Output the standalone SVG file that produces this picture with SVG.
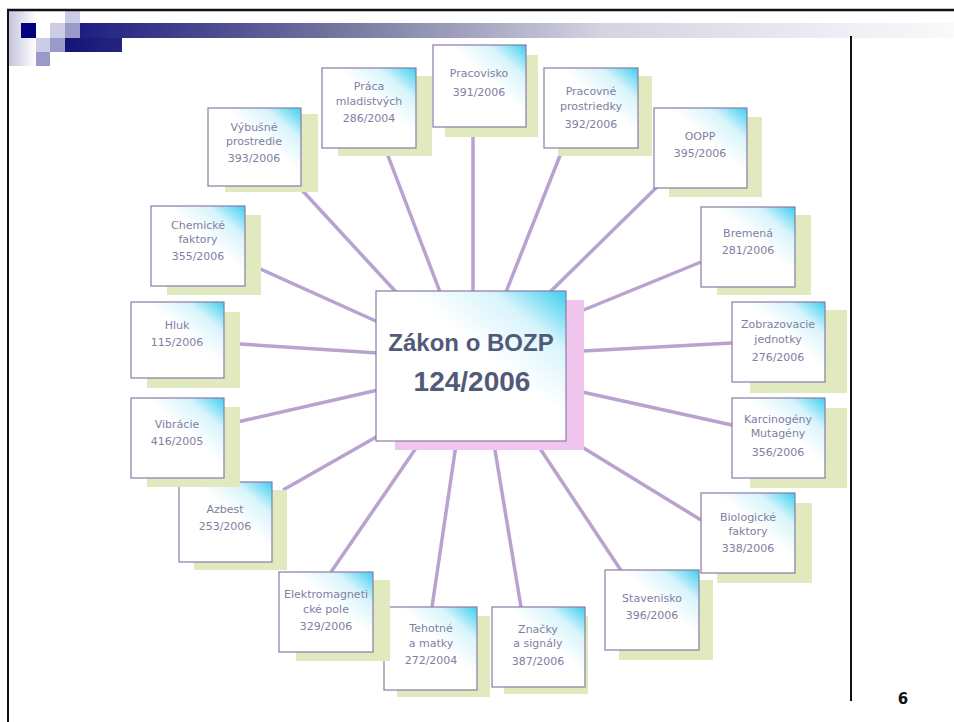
<svg xmlns="http://www.w3.org/2000/svg" width="954" height="722" viewBox="0 0 954 722">
<defs>
<linearGradient id="boxg" x1="0" y1="1" x2="1" y2="0">
<stop offset="0" stop-color="#ffffff"/>
<stop offset="0.58" stop-color="#ffffff"/>
<stop offset="0.8" stop-color="#d8f4fb"/>
<stop offset="1" stop-color="#3ccff0"/>
</linearGradient>
<linearGradient id="topbar" x1="0" y1="0" x2="1" y2="0">
<stop offset="0" stop-color="#1e1e82"/>
<stop offset="0.3" stop-color="#76769f"/>
<stop offset="0.6" stop-color="#d4d4e2"/>
<stop offset="1" stop-color="#fafafc"/>
</linearGradient>
<linearGradient id="lowbar" x1="0" y1="0" x2="1" y2="0">
<stop offset="0" stop-color="#141478"/>
<stop offset="1" stop-color="#24247f"/>
</linearGradient>
<linearGradient id="leftband" x1="0" y1="0" x2="1" y2="0">
<stop offset="0" stop-color="#c4c4de"/>
<stop offset="1" stop-color="#ffffff"/>
</linearGradient>
<style>
.box{fill:url(#boxg);stroke:#8a7aa6;stroke-width:1.2}
.sh{fill:#e1eabf}
.csh{fill:#f0c6ef}
.t{font-family:"DejaVu Sans",Verdana,sans-serif;font-size:11px;fill:#8080a2;text-anchor:middle}
.ct{font-family:"Liberation Sans",Arial,sans-serif;font-weight:bold;fill:#525a7a;text-anchor:middle}
.conn line{stroke:#b9a2d0;stroke-width:3.5}
</style>
</defs>
<rect x="0" y="0" width="954" height="722" fill="#ffffff"/>
<g id="decoration">
<rect x="9" y="11" width="27" height="55" fill="url(#leftband)"/>
<rect x="80" y="23" width="874" height="15" fill="url(#topbar)"/>
<rect x="65" y="38" width="57" height="14" fill="url(#lowbar)"/>
<rect x="21" y="23" width="15" height="15" fill="#000080"/>
<rect x="36" y="38" width="14" height="14" fill="#ccccE6"/>
<rect x="36" y="52" width="14" height="14" fill="#9999cc"/>
<rect x="50" y="23" width="15" height="15" fill="#ccccE6"/>
<rect x="50" y="38" width="15" height="14" fill="#9999cc"/>
<rect x="65" y="11" width="15" height="12" fill="#ccccE6"/>
<rect x="65" y="23" width="15" height="15" fill="#9999cc"/>
<line x1="7" y1="10" x2="954" y2="10" stroke="#111" stroke-width="2.5"/>
<line x1="8" y1="10" x2="8" y2="722" stroke="#111" stroke-width="2"/>
<line x1="851" y1="36" x2="851" y2="701" stroke="#111" stroke-width="2"/>
<text x="903" y="704" font-family="DejaVu Sans,Verdana,sans-serif" font-weight="bold" font-size="15" fill="#111" text-anchor="middle">6</text>
</g>
<g id="connectors" class="conn">
<line x1="300" y1="188" x2="396" y2="292"/>
<line x1="385" y1="148" x2="440" y2="292"/>
<line x1="473" y1="127" x2="473" y2="292"/>
<line x1="563" y1="148" x2="506" y2="292"/>
<line x1="658" y1="186" x2="550" y2="292"/>
<line x1="701" y1="262" x2="564" y2="318"/>
<line x1="732" y1="343" x2="564" y2="352"/>
<line x1="732" y1="425" x2="564" y2="388"/>
<line x1="701" y1="520" x2="564" y2="436"/>
<line x1="622" y1="572" x2="533" y2="438"/>
<line x1="521" y1="607" x2="493" y2="438"/>
<line x1="432" y1="607" x2="457" y2="438"/>
<line x1="331" y1="572" x2="423" y2="438"/>
<line x1="283" y1="490" x2="378" y2="436"/>
<line x1="224" y1="425" x2="378" y2="390"/>
<line x1="224" y1="343" x2="378" y2="353"/>
<line x1="245" y1="262" x2="378" y2="322"/>
</g>
<g id="center">
<rect class="csh" x="395" y="300" width="189" height="150"/>
<rect class="box" x="376" y="291" width="190" height="150"/>
<text class="ct" x="471" y="351" font-size="24">Zákon o BOZP</text>
<text class="ct" x="472" y="391" font-size="28">124/2006</text>
</g>
<g id="n-vybusne">
<rect class="sh" x="225" y="114" width="93" height="78"/>
<rect class="box" x="208" y="108" width="93" height="78"/>
<text class="t" x="254" y="131">Výbušné</text>
<text class="t" x="254" y="145">prostredie</text>
<text class="t" x="254" y="162">393/2006</text>
</g>
<g id="n-praca">
<rect class="sh" x="338" y="76" width="94" height="80"/>
<rect class="box" x="322" y="68" width="94" height="80"/>
<text class="t" x="369" y="90">Práca</text>
<text class="t" x="369" y="105">mladistvých</text>
<text class="t" x="369" y="122">286/2004</text>
</g>
<g id="n-pracovisko">
<rect class="sh" x="445" y="55" width="93" height="82"/>
<rect class="box" x="433" y="45" width="93" height="82"/>
<text class="t" x="479" y="77">Pracovisko</text>
<text class="t" x="479" y="96">391/2006</text>
</g>
<g id="n-prostriedky">
<rect class="sh" x="558" y="76" width="94" height="80"/>
<rect class="box" x="544" y="68" width="94" height="80"/>
<text class="t" x="591" y="95">Pracovné</text>
<text class="t" x="591" y="110">prostriedky</text>
<text class="t" x="591" y="128">392/2006</text>
</g>
<g id="n-oopp">
<rect class="sh" x="669" y="117" width="93" height="80"/>
<rect class="box" x="654" y="108" width="93" height="80"/>
<text class="t" x="700" y="140">OOPP</text>
<text class="t" x="700" y="157">395/2006</text>
</g>
<g id="n-bremena">
<rect class="sh" x="717" y="215" width="94" height="80"/>
<rect class="box" x="701" y="207" width="94" height="80"/>
<text class="t" x="748" y="237">Bremená</text>
<text class="t" x="748" y="254">281/2006</text>
</g>
<g id="n-zobrazovacie">
<rect class="sh" x="750" y="310" width="97" height="83"/>
<rect class="box" x="732" y="302" width="93" height="80"/>
<text class="t" x="778" y="328">Zobrazovacie</text>
<text class="t" x="778" y="343">jednotky</text>
<text class="t" x="778" y="361">276/2006</text>
</g>
<g id="n-karcinogeny">
<rect class="sh" x="750" y="408" width="97" height="80"/>
<rect class="box" x="732" y="398" width="93" height="80"/>
<text class="t" x="778" y="423">Karcinogény</text>
<text class="t" x="778" y="437">Mutagény</text>
<text class="t" x="778" y="456">356/2006</text>
</g>
<g id="n-biologicke">
<rect class="sh" x="717" y="503" width="95" height="80"/>
<rect class="box" x="701" y="493" width="94" height="80"/>
<text class="t" x="748" y="521">Biologické</text>
<text class="t" x="748" y="535">faktory</text>
<text class="t" x="748" y="552">338/2006</text>
</g>
<g id="n-stavenisko">
<rect class="sh" x="619" y="580" width="94" height="80"/>
<rect class="box" x="605" y="570" width="94" height="80"/>
<text class="t" x="652" y="602">Stavenisko</text>
<text class="t" x="652" y="619">396/2006</text>
</g>
<g id="n-znacky">
<rect class="sh" x="504" y="616" width="84" height="78"/>
<rect class="box" x="492" y="607" width="93" height="80"/>
<text class="t" x="538" y="633">Značky</text>
<text class="t" x="538" y="647">a signály</text>
<text class="t" x="538" y="665">387/2006</text>
</g>
<g id="n-tehotne">
<rect class="sh" x="397" y="616" width="93" height="81"/>
<rect class="box" x="384" y="607" width="93" height="83"/>
<text class="t" x="431" y="632">Tehotné</text>
<text class="t" x="431" y="647">a matky</text>
<text class="t" x="431" y="664">272/2004</text>
</g>
<g id="n-elektro">
<rect class="sh" x="296" y="580" width="94" height="81"/>
<rect class="box" x="279" y="572" width="94" height="80"/>
<text class="t" x="326" y="598">Elektromagneti</text>
<text class="t" x="326" y="613">cké pole</text>
<text class="t" x="326" y="630">329/2006</text>
</g>
<g id="n-azbest">
<rect class="sh" x="194" y="490" width="93" height="80"/>
<rect class="box" x="179" y="482" width="93" height="80"/>
<text class="t" x="225" y="513">Azbest</text>
<text class="t" x="225" y="530">253/2006</text>
</g>
<g id="n-vibracie">
<rect class="sh" x="147" y="407" width="93" height="80"/>
<rect class="box" x="131" y="398" width="93" height="80"/>
<text class="t" x="177" y="428">Vibrácie</text>
<text class="t" x="177" y="445">416/2005</text>
</g>
<g id="n-hluk">
<rect class="sh" x="147" y="312" width="93" height="76"/>
<rect class="box" x="131" y="302" width="93" height="76"/>
<text class="t" x="177" y="329">Hluk</text>
<text class="t" x="177" y="346">115/2006</text>
</g>
<g id="n-chemicke">
<rect class="sh" x="167" y="215" width="94" height="80"/>
<rect class="box" x="151" y="206" width="94" height="80"/>
<text class="t" x="198" y="229">Chemické</text>
<text class="t" x="198" y="243">faktory</text>
<text class="t" x="198" y="260">355/2006</text>
</g>
</svg>
